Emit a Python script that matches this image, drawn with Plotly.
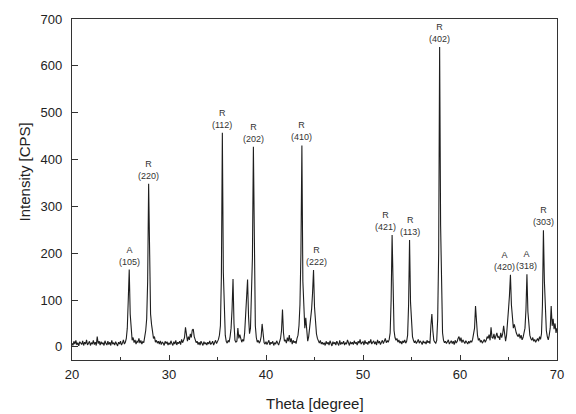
import numpy as np
import plotly.graph_objects as go

# Scan: 2-theta from 20 to 70 degrees in 0.1 degree steps
theta = np.round(np.arange(20.0, 70.05, 0.1), 1)

# Measured counts, one row per degree (x.0 ... x.9), last value is 70.0
intensity_rows = [
    [8, 3, 12, 6, 14, 4, 9, 2, 11, 7],              # 20
    [5, 13, 3, 10, 6, 15, 4, 8, 12, 3],             # 21
    [9, 6, 14, 5, 10, 3, 22, 7, 12, 4],             # 22
    [11, 6, 9, 3, 13, 7, 4, 12, 5, 10],             # 23
    [3, 14, 6, 9, 4, 11, 7, 2, 10, 6],              # 24
    [12, 4, 8, 15, 6, 10, 18, 40, 100, 165],        # 25
    [70, 28, 14, 20, 9, 15, 6, 12, 10, 18],         # 26
    [8, 14, 6, 11, 9, 22, 35, 60, 140, 348],        # 27
    [150, 70, 48, 32, 18, 22, 10, 14, 8, 12],       # 28
    [6, 13, 5, 10, 8, 3, 12, 7, 11, 4],             # 29
    [9, 5, 13, 7, 3, 11, 6, 14, 4, 10],             # 30
    [7, 12, 5, 16, 9, 14, 20, 42, 18, 12],          # 31
    [22, 15, 28, 20, 36, 38, 22, 14, 9, 12],        # 32
    [5, 10, 4, 12, 7, 3, 11, 6, 9, 4],              # 33
    [10, 6, 13, 5, 8, 12, 4, 9, 14, 7],             # 34
    [11, 16, 25, 45, 150, 457, 160, 55, 25, 12],    # 35
    [8, 14, 10, 22, 40, 80, 145, 50, 14, 10],       # 36
    [12, 40, 18, 26, 14, 10, 16, 12, 30, 70],       # 37
    [115, 144, 65, 28, 40, 95, 190, 427, 140, 45],  # 38
    [20, 10, 14, 8, 12, 22, 49, 18, 9, 6],          # 39
    [11, 5, 9, 14, 4, 10, 7, 12, 3, 9],             # 40
    [6, 13, 8, 4, 11, 18, 35, 80, 30, 12],          # 41
    [15, 8, 20, 12, 25, 10, 18, 6, 14, 9],          # 42
    [12, 7, 18, 25, 45, 90, 200, 430, 140, 65],     # 43
    [40, 62, 28, 12, 22, 42, 55, 80, 115, 164],     # 44
    [85, 45, 28, 18, 12, 8, 14, 6, 10, 5],          # 45
    [9, 3, 12, 6, 10, 4, 13, 7, 2, 11],             # 46
    [6, 10, 4, 12, 8, 3, 14, 5, 9, 7],              # 47
    [12, 4, 9, 6, 15, 8, 3, 11, 6, 10],             # 48
    [5, 13, 7, 10, 4, 12, 8, 16, 6, 9],             # 49
    [11, 4, 14, 7, 10, 5, 12, 8, 16, 6],            # 50
    [9, 13, 6, 11, 4, 15, 8, 12, 5, 10],            # 51
    [14, 7, 12, 18, 9, 13, 10, 16, 30, 100],        # 52
    [239, 80, 35, 20, 14, 18, 10, 15, 8, 12],       # 53
    [6, 13, 9, 15, 8, 12, 25, 90, 228, 95],         # 54
    [40, 22, 14, 9, 13, 7, 11, 16, 8, 12],          # 55
    [10, 5, 13, 8, 11, 6, 14, 9, 12, 7],            # 56
    [45, 70, 35, 14, 10, 8, 14, 60, 200, 640],      # 57
    [260, 80, 30, 14, 9, 12, 7, 11, 15, 6],         # 58
    [10, 13, 7, 12, 5, 14, 9, 11, 18, 22],          # 59
    [12, 20, 9, 15, 11, 7, 13, 9, 6, 12],           # 60
    [8, 13, 10, 16, 25, 40, 87, 45, 25, 14],        # 61
    [18, 10, 14, 8, 12, 16, 10, 14, 22, 18],        # 62
    [26, 14, 42, 20, 18, 28, 16, 24, 30, 20],       # 63
    [22, 15, 30, 20, 28, 45, 20, 12, 25, 45],       # 64
    [80, 110, 154, 90, 55, 40, 48, 35, 30, 25],     # 65
    [22, 28, 18, 25, 15, 20, 28, 40, 80, 155],      # 66
    [75, 40, 25, 18, 14, 20, 12, 16, 10, 14],       # 67
    [18, 12, 22, 16, 28, 90, 249, 140, 70, 35],     # 68
    [22, 15, 25, 40, 87, 45, 60, 38, 50, 30],       # 69
    [40],                                           # 70
]
intensity = np.array([v for row in intensity_rows for v in row], dtype=float)

# Indexed reflections: position, phase (A = anatase, R = rutile), Miller indices
peak_theta = [25.9, 27.9, 35.5, 38.7, 43.7, 44.9, 53.0, 54.8, 57.9, 65.2, 66.9, 68.6]
peak_phase = ["A", "R", "R", "R", "R", "R", "R", "R", "R", "A", "A", "R"]
peak_hkl = ["(105)", "(220)", "(112)", "(202)", "(410)", "(222)",
            "(421)", "(113)", "(402)", "(420)", "(318)", "(303)"]

# small horizontal nudges (px) so neighbouring labels do not collide
label_xshift = {"(421)": -7, "(420)": -6, "(222)": 3}

font_family = "Liberation Sans, Arial, sans-serif"
ink = "#222222"

fig = go.Figure()
fig.add_trace(go.Scatter(
    x=theta, y=intensity, mode="lines",
    line=dict(color="#1e1e1e", width=1.1),
    showlegend=False, hoverinfo="skip",
))

for t, ph, hkl in zip(peak_theta, peak_phase, peak_hkl):
    idx = int(np.argmin(np.abs(theta - t)))
    fig.add_annotation(
        x=theta[idx], y=intensity[idx],
        text=f"{ph}<br>{hkl}",
        showarrow=False, xanchor="center", yanchor="bottom",
        yshift=1, xshift=label_xshift.get(hkl, 0),
        font=dict(family=font_family, size=9, color="#333333"),
    )

# axis titles
fig.add_annotation(
    xref="paper", yref="paper", x=0.5, y=0, yshift=-43,
    xanchor="center", yanchor="middle", showarrow=False,
    text="Theta [degree]", font=dict(family=font_family, size=15, color=ink),
)
fig.add_annotation(
    xref="paper", yref="paper", x=0, y=0.55, xshift=-48,
    xanchor="center", yanchor="middle", showarrow=False, textangle=-90,
    text="Intensity [CPS]", font=dict(family=font_family, size=15, color=ink),
)

fig.update_layout(
    width=576, height=414,
    margin=dict(l=72, r=17, t=15, b=54),
    paper_bgcolor="white", plot_bgcolor="white",
    font=dict(family=font_family, color=ink),
    showlegend=False,
)
fig.update_xaxes(
    range=[20, 70], tickmode="array", tickvals=[20, 30, 40, 50, 60, 70],
    ticks="inside", ticklen=5, tickwidth=1, tickcolor="#333333",
    minor=dict(tickvals=[25, 35, 45, 55, 65], ticks="inside", ticklen=3,
               tickcolor="#333333", showgrid=False),
    showline=True, mirror=True, linecolor="#333333", linewidth=1.3,
    showgrid=False, zeroline=False,
    tickfont=dict(family=font_family, size=13, color=ink),
    ticklabelstandoff=2,
)
fig.update_yaxes(
    range=[-28, 700], tickmode="array", tickvals=[0, 100, 200, 300, 400, 500, 600, 700],
    ticks="inside", ticklen=6, tickwidth=1, tickcolor="#333333",
    showline=True, mirror=True, linecolor="#333333", linewidth=1.3,
    showgrid=False, zeroline=False,
    tickfont=dict(family=font_family, size=13, color=ink),
    ticklabelstandoff=6,
)

fig.write_html("out.html")
